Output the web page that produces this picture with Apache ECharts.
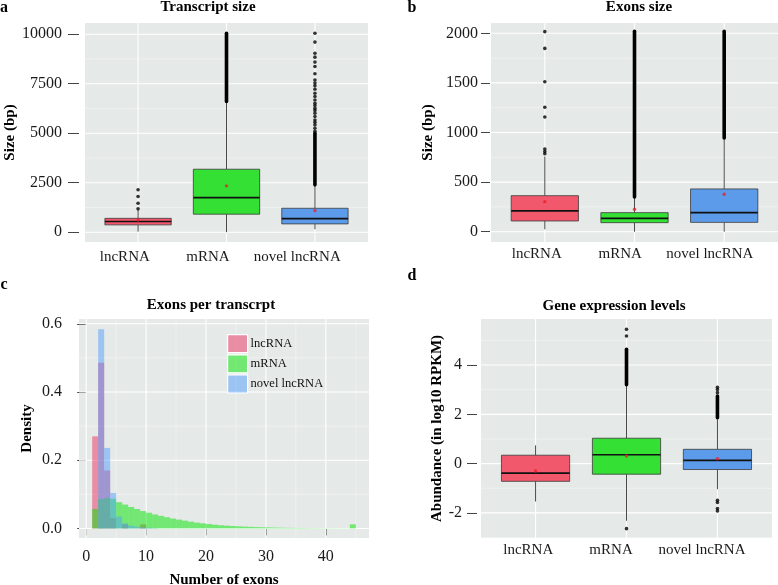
<!DOCTYPE html>
<html><head><meta charset="utf-8">
<script src="https://cdn.jsdelivr.net/npm/echarts@6/dist/echarts.min.js"></script>
<style>html,body{margin:0;padding:0;background:#fff}#c{width:778px;height:585px}</style>
</head><body><div id="c"></div>
<script>
// ---------- data ----------
const categories = ['lncRNA', 'mRNA', 'novel lncRNA'];

// Panel a: transcript size, boxes as [min, Q1, median, Q3, max]
const transcriptBox = [[30, 370, 540, 700, 1130], [0, 910, 1750, 3180, 6600], [150, 420, 690, 1210, 2390]];
const transcriptMean = [620, 2340, 1090];
const transcriptOutliers = [
  [1180, 1465, 1800, 2140],
  [],
  [5100, 5250, 5420, 5550, 5670, 5840, 6010, 6150, 6260, 6400, 6510, 6680, 6850, 7020, 7220, 7390, 7530, 7690, 8000, 8370, 8590, 8840, 9040, 9600, 10050]
];
const transcriptDense = [[2, 6600, 10050], [3, 2390, 5000]]; // [category, from, to] of solid outlier runs
const transcriptTicks = [0, 2500, 5000, 7500, 10000];
const transcriptMinor = [1250, 3750, 6250, 8750];
const transcriptLabelPos = [0.85, 1.79, 2.80]; // where the category names sit on the x scale

// Panel b: exon size
const exonBox = [[24, 108, 209, 363, 757], [0, 91, 135, 192, 345], [0, 94, 192, 431, 940]];
const exonMean = [303, 226, 377];
const exonOutliers = [[786, 809, 833, 1157, 1255, 1511, 1848, 2017], [], []];
const exonDense = [[2, 350, 2020], [3, 945, 2020]];
const exonTicks = [0, 500, 1000, 1500, 2000];
const exonMinor = [250, 750, 1250, 1750];
const exonLabelPos = [0.91, 1.84, 2.84];

// Panel c: exons per transcript (density histogram, bins [b, b+1))
const exonBins = [1,2,3,4,5,6,7,8,9,10,11,12,13,14,15,16,17,18,19,20,21,22,23,24,25,26,27,28,29,30,31,32,33,34,35,36,37,38,39,40,41,42,43,44];
const densLnc = [0.27,0.486,0.17,0.03,0,0.012,0,0,0.012,0,0,0,0,0,0,0,0,0,0,0,0,0,0,0,0,0,0,0,0,0,0,0,0,0,0,0,0,0,0,0,0,0,0,0];
const densMrna = [0.057,0.086,0.089,0.087,0.077,0.07,0.063,0.057,0.051,0.046,0.041,0.037,0.033,0.029,0.026,0.023,0.02,0.017,0.015,0.013,0.011,0.0095,0.0083,0.0072,0.0062,0.0054,0.0047,0.004,0.0035,0.003,0.0026,0.0022,0.0019,0.0016,0.0014,0.0012,0.001,0.0009,0.0008,0.0007,0.0006,0.0005,0.0005,0.012];
const densNovel = [0,0.584,0.236,0.104,0.035,0.015,0.008,0.005,0.003,0.002,0.001,0,0,0,0,0,0,0,0,0,0,0,0,0,0,0,0,0,0,0,0,0,0,0,0,0,0,0,0,0,0,0,0,0];
const histXTicks = [0, 10, 20, 30, 40];
const histXMinor = [5, 15, 25, 35, 45];
const histYTicks = [0, 0.2, 0.4, 0.6];
const histYMinor = [0.1, 0.3, 0.5];

// Panel d: gene expression levels
const exprBox = [[-1.54, -0.72, -0.39, 0.34, 0.74], [-2.32, -0.43, 0.36, 1.03, 3.15], [-1.04, -0.24, 0.135, 0.58, 1.80]];
const exprMean = [-0.30, 0.31, 0.20];
const exprOutliers = [[], [-2.64, 5.18, 5.45], [-1.92, -1.82, -1.58, -1.49, 2.88, 3.01, 3.10]];
const exprDense = [[2, 3.2, 4.64], [3, 1.86, 2.74]];
const exprTicks = [-2, 0, 2, 4];
const exprMinor = [-3, -1, 1, 3, 5];
const exprLabelPos = [0.92, 1.83, 2.83];

// ---------- style ----------
const FONT = '"Liberation Serif", "DejaVu Serif", serif';
const BG = '#E5E9E7';
const boxColors = ['#F2586C', '#35E035', '#5C9BEA'];
const histColors = ['rgba(235,50,95,0.5)', 'rgba(0,231,0,0.5)', 'rgba(83,159,255,0.5)'];

const grids = [
  {left: 85, top: 23, width: 283, height: 219},
  {left: 491, top: 23, width: 287, height: 219},
  {left: 79, top: 319, width: 290, height: 219},
  {left: 481, top: 319, width: 291, height: 219}
].map(g => Object.assign({show: true, backgroundColor: BG, borderWidth: 0, containLabel: false, outerBoundsMode: 'none'}, g));

function yAx(gi, min, max, ticks, o) {
  return {
    type: 'value', gridIndex: gi, min, max, offset: o.offset,
    splitLine: {show: false}, axisLine: {show: false},
    axisTick: {show: true, customValues: ticks, length: o.tickLen, lineStyle: {color: '#444', width: 1}},
    axisLabel: {customValues: ticks, margin: o.margin, fontFamily: FONT, fontSize: 16, color: '#1a1a1a', formatter: o.fmt || (v => String(v))},
    name: o.name, nameLocation: 'middle', nameGap: o.nameGap, nameRotate: 90,
    nameTextStyle: {fontFamily: FONT, fontWeight: 'bold', fontSize: 15, color: '#000'}
  };
}
function catXAx(gi, margin, labelPos) {
  return {
    type: 'value', gridIndex: gi, min: 0.4, max: 3.6,
    splitLine: {show: false}, axisLine: {show: false}, axisTick: {show: false},
    axisLabel: {customValues: labelPos, margin, fontFamily: FONT, fontSize: 15, color: '#1a1a1a', formatter: v => categories[Math.round(v) - 1]}
  };
}

function gridLines(gi, xRef, yRef, hMaj, hMin, vMaj, vMin) {
  const data = [];
  hMaj.forEach(v => data.push([xRef, v, 0]));
  hMin.forEach(v => data.push([xRef, v, 1]));
  vMaj.forEach(v => data.push([v, yRef, 2]));
  vMin.forEach(v => data.push([v, yRef, 3]));
  return {
    type: 'custom', xAxisIndex: gi, yAxisIndex: gi, z: 1, silent: true, encode: {x: 0, y: 1}, data,
    renderItem(params, api) {
      const cs = params.coordSys, k = api.value(2);
      const p = api.coord([api.value(0), api.value(1)]);
      const major = (k === 0 || k === 2);
      const style = {stroke: major ? '#ffffff' : 'rgba(255,255,255,0.7)', lineWidth: major ? 1.1 : 0.55};
      if (k < 2) return {type: 'line', shape: {x1: cs.x, y1: p[1], x2: cs.x + cs.width, y2: p[1]}, style};
      return {type: 'line', shape: {x1: p[0], y1: cs.y, x2: p[0], y2: cs.y + cs.height}, style};
    }
  };
}

function boxSeries(gi, boxes) {
  return {
    type: 'custom', xAxisIndex: gi, yAxisIndex: gi, z: 3, silent: true,
    encode: {x: 0, y: [1, 2, 3, 4, 5]},
    data: boxes.map((b, i) => [i + 1].concat(b)),
    renderItem(params, api) {
      const i = params.dataIndex, x = api.value(0);
      const lo = api.coord([x, api.value(1)]), q1 = api.coord([x, api.value(2)]);
      const md = api.coord([x, api.value(3)]), q3 = api.coord([x, api.value(4)]);
      const hi = api.coord([x, api.value(5)]);
      const L = api.coord([x - 0.375, api.value(4)]), R = api.coord([x + 0.375, api.value(2)]);
      const wStyle = {stroke: '#4a4a4a', lineWidth: 1};
      return {type: 'group', children: [
        {type: 'line', shape: {x1: lo[0], y1: lo[1], x2: q1[0], y2: q1[1]}, style: wStyle},
        {type: 'line', shape: {x1: q3[0], y1: q3[1], x2: hi[0], y2: hi[1]}, style: wStyle},
        {type: 'rect', shape: {x: L[0], y: L[1], width: R[0] - L[0], height: R[1] - L[1]}, style: {fill: boxColors[i], stroke: '#3a3a3a', lineWidth: 0.8}},
        {type: 'line', shape: {x1: L[0], y1: md[1], x2: R[0], y2: md[1]}, style: {stroke: '#111', lineWidth: 1.7}}
      ]};
    }
  };
}
function denseSeries(gi, runs) {
  return {
    type: 'custom', xAxisIndex: gi, yAxisIndex: gi, z: 4, silent: true, encode: {x: 0, y: [1, 2]}, data: runs,
    renderItem(params, api) {
      const a = api.coord([api.value(0), api.value(1)]), b = api.coord([api.value(0), api.value(2)]);
      return {type: 'line', shape: {x1: a[0], y1: a[1], x2: b[0], y2: b[1]}, style: {stroke: '#000', lineWidth: 3.6, lineCap: 'round'}};
    }
  };
}
function outlierSeries(gi, lists) {
  const data = [];
  lists.forEach((l, i) => l.forEach(v => data.push([i + 1, v])));
  return {type: 'scatter', xAxisIndex: gi, yAxisIndex: gi, z: 4, silent: true, symbolSize: 3.6, itemStyle: {color: '#000'}, data};
}
function meanSeries(gi, means) {
  return {type: 'scatter', xAxisIndex: gi, yAxisIndex: gi, z: 5, silent: true, symbolSize: 3.4, itemStyle: {color: '#E8202E'}, data: means.map((m, i) => [i + 1, m])};
}
function histSeries(name, vals, color, z) {
  return {
    type: 'custom', name, xAxisIndex: 2, yAxisIndex: 2, z, silent: true, itemStyle: {color},
    encode: {x: [0, 1], y: 2},
    data: exonBins.map((b, i) => [b, b + 1, vals[i]]).filter(d => d[2] > 0),
    renderItem(params, api) {
      const p0 = api.coord([api.value(0), api.value(2)]), p1 = api.coord([api.value(1), 0]);
      return {type: 'rect', shape: {x: p0[0], y: p0[1], width: p1[0] - p0[0], height: p1[1] - p0[1]}, style: {fill: color}};
    }
  };
}

function txt(text, x, y, size, bold) {
  return {type: 'text', x, y, style: {text, fontFamily: FONT, fontSize: size, fontWeight: bold ? 'bold' : 'normal', fill: '#000', align: 'center', verticalAlign: 'middle'}};
}

const option = {
  animation: false,
  grid: grids,
  xAxis: [
    catXAx(0, 8, transcriptLabelPos),
    catXAx(1, 5, exonLabelPos),
    {
      type: 'value', gridIndex: 2, min: -1.2, max: 47.2,
      splitLine: {show: false}, axisLine: {show: false},
      axisTick: {show: true, customValues: histXTicks, length: 7, lineStyle: {color: '#444'}},
      axisLabel: {customValues: histXTicks, margin: 11, fontFamily: FONT, fontSize: 16, color: '#1a1a1a'},
      name: 'Number of exons', nameLocation: 'middle', nameGap: 35,
      nameTextStyle: {fontFamily: FONT, fontWeight: 'bold', fontSize: 15, color: '#000'}
    },
    catXAx(3, 5, exprLabelPos)
  ],
  yAxis: [
    yAx(0, -495, 10565, transcriptTicks, {offset: 6, tickLen: 11, margin: 17, name: 'Size (bp)', nameGap: 53}),
    yAx(1, -104, 2104, exonTicks, {offset: 1, tickLen: 9, margin: 12, name: 'Size (bp)', nameGap: 54}),
    yAx(2, -0.028, 0.614, histYTicks, {offset: 2, tickLen: 9, margin: 15, name: 'Density', nameGap: 42, fmt: v => v.toFixed(1)}),
    yAx(3, -3.02, 5.87, exprTicks, {offset: 4, tickLen: 10, margin: 15, name: 'Abundance (in log10 RPKM)', nameGap: 32})
  ],
  legend: {
    left: 222, top: 329, orient: 'vertical', itemWidth: 20, itemHeight: 18, itemGap: 1,
    icon: 'rect', selectedMode: false,
    textStyle: {fontFamily: FONT, fontSize: 12.5, color: '#111', padding: [0, 0, 0, -2]},
    data: [
      {name: 'lncRNA', itemStyle: {color: histColors[0], borderColor: '#fff', borderWidth: 1.2}},
      {name: 'mRNA', itemStyle: {color: histColors[1], borderColor: '#fff', borderWidth: 1.2}},
      {name: 'novel lncRNA', itemStyle: {color: histColors[2], borderColor: '#fff', borderWidth: 1.2}}
    ]
  },
  graphic: [
    txt('a', 4, 8, 16, true), txt('b', 412, 8, 16, true),
    txt('c', 4, 285, 16, true), txt('d', 412, 276, 16, true),
    txt('Transcript size', 208, 7, 15, true), txt('Exons size', 639, 7, 15, true),
    txt('Exons per transcrpt', 211, 305, 15, true), txt('Gene expression levels', 614, 306, 15, true)
  ],
  series: [
    gridLines(0, 1, 0, transcriptTicks, transcriptMinor, [1, 2, 3], []),
    boxSeries(0, transcriptBox), denseSeries(0, transcriptDense), outlierSeries(0, transcriptOutliers), meanSeries(0, transcriptMean),

    gridLines(1, 1, 0, exonTicks, exonMinor, [1, 2, 3], []),
    boxSeries(1, exonBox), denseSeries(1, exonDense), outlierSeries(1, exonOutliers), meanSeries(1, exonMean),

    gridLines(2, 0, 0, histYTicks, histYMinor, histXTicks, histXMinor),
    histSeries('lncRNA', densLnc, histColors[0], 2),
    histSeries('mRNA', densMrna, histColors[1], 3),
    histSeries('novel lncRNA', densNovel, histColors[2], 4),

    gridLines(3, 1, 0, exprTicks, exprMinor, [1, 2, 3], []),
    boxSeries(3, exprBox), denseSeries(3, exprDense), outlierSeries(3, exprOutliers), meanSeries(3, exprMean)
  ]
};

const chart = echarts.init(document.getElementById('c'), null, {renderer: 'canvas'});
chart.setOption(option);
</script>
</body></html>
